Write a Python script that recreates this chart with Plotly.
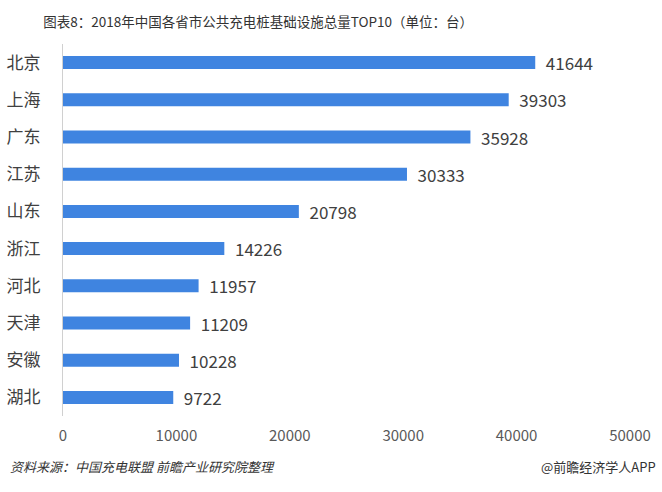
import plotly.graph_objects as go

provinces = ["北京", "上海", "广东", "江苏", "山东", "浙江", "河北", "天津", "安徽", "湖北"]
totals = [41644, 39303, 35928, 30333, 20798, 14226, 11957, 11209, 10228, 9722]
x_ticks = [0, 10000, 20000, 30000, 40000, 50000]

font_cjk = "Noto Sans CJK SC, Microsoft YaHei, sans-serif"

fig = go.Figure()
fig.add_trace(go.Bar(
	x=totals,
	y=provinces,
	orientation="h",
	marker=dict(color="#3f84e0", line=dict(width=0)),
	text=["  " + str(v) for v in totals],
	textposition="outside",
	constraintext="none",
	textfont=dict(size=17, color="#404040", family=font_cjk),
	cliponaxis=False,
	hoverinfo="x+y"
))

fig.update_layout(
	width=662,
	height=492,
	paper_bgcolor="white",
	plot_bgcolor="white",
	showlegend=False,
	bargap=0.65,
	margin=dict(l=63, r=32, t=44, b=76),
	font=dict(family=font_cjk, color="#404040"),
	title=dict(
		text="图表8：2018年中国各省市公共充电桩基础设施总量TOP10（单位：台）",
		x=0.39, xanchor="center", y=0.955, yanchor="middle",
		font=dict(size=13.5, color="#333333", family=font_cjk)
	),
	xaxis=dict(
		range=[0, 50000],
		tickvals=x_ticks,
		ticktext=[str(t) for t in x_ticks],
		showgrid=False,
		zeroline=False,
		showline=False,
		automargin=False,
		ticklabelstandoff=9,
		tickfont=dict(size=15, color="#595959", family=font_cjk)
	),
	yaxis=dict(
		categoryorder="array",
		categoryarray=provinces,
		autorange="reversed",
		showgrid=False,
		zeroline=False,
		showline=True,
		linecolor="#d0d0d0",
		linewidth=1,
		automargin=False,
		ticklabelstandoff=18,
		tickfont=dict(size=17, color="#404040", family=font_cjk)
	)
)

fig.add_annotation(
	text="<i>资料来源：中国充电联盟 前瞻产业研究院整理</i>",
	xref="paper", yref="paper", x=-0.097, y=-0.135,
	xanchor="left", yanchor="middle", showarrow=False,
	font=dict(size=13, color="#333333", family=font_cjk)
)
fig.add_annotation(
	text="@前瞻经济学人APP",
	xref="paper", yref="paper", x=1.05, y=-0.135,
	xanchor="right", yanchor="middle", showarrow=False,
	font=dict(size=13, color="#333333", family=font_cjk)
)

fig.write_html("out.html", config={"displayModeBar": False},
	post_script="document.body.style.margin='0';")
